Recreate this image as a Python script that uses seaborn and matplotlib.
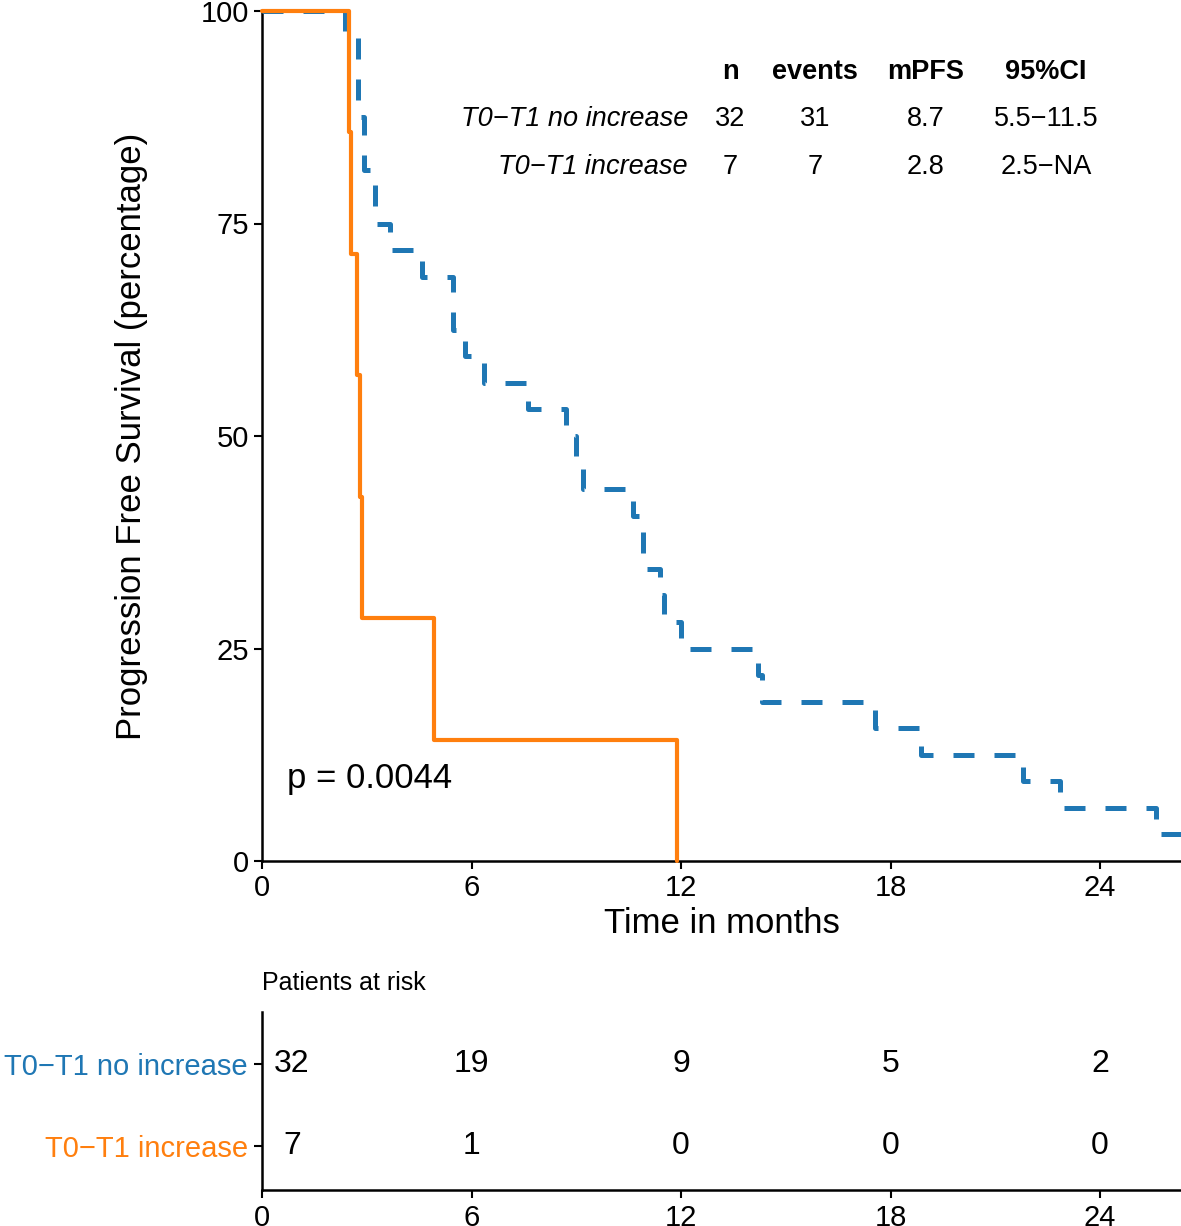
import pandas as pd
import matplotlib
matplotlib.use("Agg")
import matplotlib.pyplot as plt
import seaborn as sns

# Event / censor times (months)
blue_events = [2.38, 2.75, 2.75, 2.75, 2.92, 2.92, 3.24, 3.24, 3.67, 4.58,
               5.47, 5.47, 5.82, 6.35, 7.62, 8.7, 9.0, 9.2, 10.63, 10.9,
               10.9, 11.4, 11.5, 12.0, 14.19, 14.33, 17.55, 18.88, 21.8,
               22.84, 25.59]
blue_censored = [26.6]
orange_events = [2.49, 2.55, 2.72, 2.8, 2.87, 4.92, 11.88]
orange_censored = []

group_labels = ["T0\u2212T1 no increase", "T0\u2212T1 increase"]
n_vals = ["32", "7"]
event_vals = ["31", "7"]
mpfs_vals = ["8.7", "2.8"]
ci_vals = ["5.5\u221211.5", "2.5\u2212NA"]
p_text = "p = 0.0044"

risk_times = [0, 6, 12, 18, 24]
risk_blue = [32, 19, 9, 5, 2]
risk_orange = [7, 1, 0, 0, 0]

x_ticks = [0, 6, 12, 18, 24]
y_ticks = [0, 25, 50, 75, 100]

BLUE = "#1f77b4"
ORANGE = "#ff7f0e"


def km_curve(events, censored):
    # plain Kaplan-Meier estimate, returned as step points
    at_risk = len(events) + len(censored)
    s = 1.0
    t_vals, s_vals = [0.0], [100.0]
    for t in sorted(set(events) | set(censored)):
        d = events.count(t)
        c = censored.count(t)
        if d:
            s *= 1 - d / at_risk
        at_risk -= d + c
        t_vals.append(t)
        s_vals.append(100 * s)
    return pd.DataFrame({"time": t_vals, "pfs": s_vals})


df_blue = km_curve(blue_events, blue_censored)
df_orange = km_curve(orange_events, orange_censored)

sns.set_theme(style="ticks")
plt.rcParams["font.family"] = ["Liberation Sans", "DejaVu Sans"]
plt.rcParams["axes.linewidth"] = 1.8
for key in ["text.color", "axes.labelcolor", "axes.edgecolor",
            "xtick.color", "ytick.color"]:
    plt.rcParams[key] = "black"

W, H = 1181, 1226
fig = plt.figure(figsize=(W / 100, H / 100), dpi=100)

# main KM panel
ax = fig.add_axes([262 / W, (H - 861) / H, 919 / W, 850 / H])
sns.lineplot(data=df_blue, x="time", y="pfs", ax=ax, color=BLUE, lw=3.6,
             linestyle=(0, (4.2, 4.0)), drawstyle="steps-post",
             estimator=None, errorbar=None, clip_on=False, zorder=3)
sns.lineplot(data=df_orange, x="time", y="pfs", ax=ax, color=ORANGE, lw=3.0,
             drawstyle="steps-post", estimator=None, errorbar=None,
             clip_on=False, zorder=4)
ax.set_xlim(0, 919 / 34.92)
ax.set_ylim(0, 100)
ax.set_xticks(x_ticks)
ax.set_yticks(y_ticks)
ax.tick_params(length=6, width=1.5, labelsize=21, pad=3.5, colors="black")
ax.set_xlabel("Time in months", fontsize=25)
ax.set_ylabel("Progression Free Survival (percentage)", fontsize=25)
ax.xaxis.set_label_coords(0.5, -0.054)
ax.yaxis.set_label_coords(-0.124, 0.5)
sns.despine(ax=ax)

# summary table inside the plot
col_x = [0.5092, 0.6017, 0.7225, 0.8531]
row_y = [0.8730, 0.8165]
for x, head in zip(col_x, ["n", "events", "mPFS", "95%CI"]):
    ax.text(x, 0.9283, head, transform=ax.transAxes, ha="center",
            va="center", fontsize=19.5, fontweight="bold")
for i in range(2):
    ax.text(0.4635, row_y[i], group_labels[i], transform=ax.transAxes,
            ha="right", va="center", fontsize=19.5, style="italic")
    vals = [n_vals[i], event_vals[i], mpfs_vals[i], ci_vals[i]]
    for x, v in zip(col_x, vals):
        ax.text(x, row_y[i], v, transform=ax.transAxes, ha="center",
                va="center", fontsize=19.5)
ax.text(0.0272, 0.0976, p_text, transform=ax.transAxes, ha="left",
        va="center", fontsize=25)

# risk table
ax2 = fig.add_axes([262 / W, (H - 1190) / H, 919 / W, 178 / H])
ax2.set_xlim(ax.get_xlim())
ax2.set_ylim(-0.54, 1.64)
ax2.set_xticks(x_ticks)
ax2.set_yticks([1, 0])
ax2.set_yticklabels(group_labels)
ax2.tick_params(length=6, width=1.5, labelsize=21, pad=4, colors="black")
for lab, col in zip(ax2.get_yticklabels(), [BLUE, ORANGE]):
    lab.set_color(col)
for t, nb, no in zip(risk_times, risk_blue, risk_orange):
    x = t if t > 0 else t + 0.86
    ax2.text(x, 1, str(nb), ha="center", va="center", fontsize=23)
    ax2.text(x, 0, str(no), ha="center", va="center", fontsize=23)
sns.despine(ax=ax2)
fig.text(262 / W, (H - 983) / H, "Patients at risk", ha="left", va="center",
         fontsize=18)

fig.savefig("out.png", dpi=100)
